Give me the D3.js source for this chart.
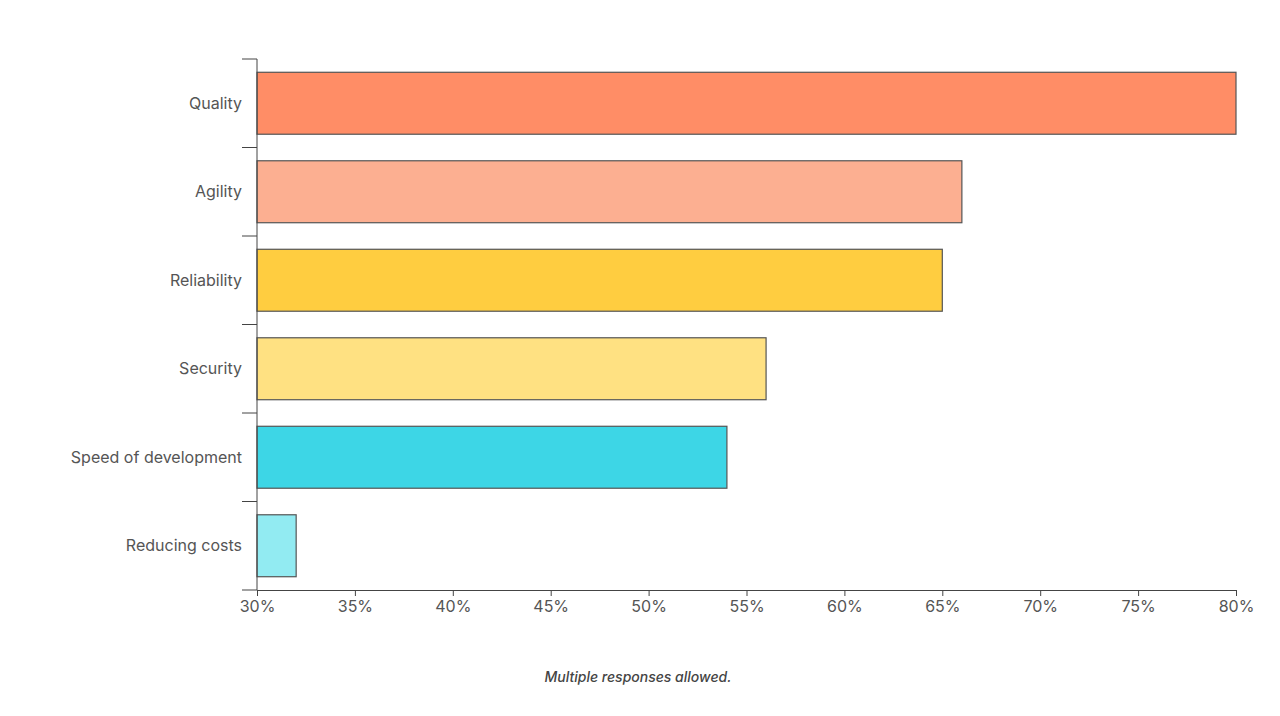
<!DOCTYPE html>
<html><head><meta charset="utf-8">
<script src="https://cdn.jsdelivr.net/npm/d3@7"></script>
<style>body{margin:0;background:#fff;font-family:Inter,sans-serif}</style>
</head><body>
<svg id="chart" width="1280" height="716"></svg>
<script>
var categories = ["Quality","Agility","Reliability","Security","Speed of development","Reducing costs"];
var values = [80, 66, 65, 56, 54, 32];
var colors = ["#ff8d66","#fcaf91","#ffcd40","#ffe182","#3dd6e6","#92ebf2"];
var xTicks = [30,35,40,45,50,55,60,65,70,75,80];

var margin = {top: 59, left: 257, right: 44, bottom: 126};
var width = 1280 - margin.left - margin.right,
    height = 716 - margin.top - margin.bottom;

var svg = d3.select("#chart").append("g")
  .attr("transform", "translate(" + margin.left + "," + margin.top + ")");

var x = d3.scaleLinear().domain([30, 80]).range([0, width]);
var y = d3.scaleBand().domain(categories).range([0, height]).paddingInner(0.3).paddingOuter(0.15);

svg.selectAll(".bar").data(categories).enter().append("rect")
  .attr("x", 0)
  .attr("y", function(d){ return y(d); })
  .attr("width", function(d,i){ return x(values[i]); })
  .attr("height", y.bandwidth())
  .attr("fill", function(d,i){ return colors[i]; })
  .attr("stroke", "#555").attr("stroke-width", 1.2);

var xAxis = svg.append("g").attr("transform", "translate(0," + height + ")")
  .call(d3.axisBottom(x).tickValues(xTicks).tickFormat(function(d){ return d + "%"; }).tickSize(6).tickPadding(5));
xAxis.select(".domain").attr("stroke", "#444");
xAxis.selectAll("line").attr("stroke", "#444");
xAxis.selectAll("text").attr("font-size", 16).attr("fill", "#555").attr("font-family", "Inter");

// y axis: ticks at band boundaries
var bounds = d3.range(categories.length + 1).map(function(i){ return i * height / categories.length; });
var yg = svg.append("g");
yg.append("line").attr("x1",0).attr("x2",0).attr("y1",0).attr("y2",height).attr("stroke","#444");
yg.selectAll(".yt").data(bounds).enter().append("line")
  .attr("x1",-15).attr("x2",0).attr("y1",function(d){return d;}).attr("y2",function(d){return d;}).attr("stroke","#444");
yg.selectAll(".yl").data(categories).enter().append("text")
  .attr("x",-15).attr("y",function(d){ return y(d) + y.bandwidth()/2; })
  .attr("dy","0.35em").attr("text-anchor","end")
  .attr("font-size",16).attr("fill","#555").text(function(d){ return d; });

d3.select("#chart").append("text")
  .attr("x", 638).attr("y", 682).attr("text-anchor","middle")
  .attr("font-size", 14).attr("font-style","italic").attr("font-weight",500).attr("fill","#444")
  .text("Multiple responses allowed.");
</script>
</body></html>
